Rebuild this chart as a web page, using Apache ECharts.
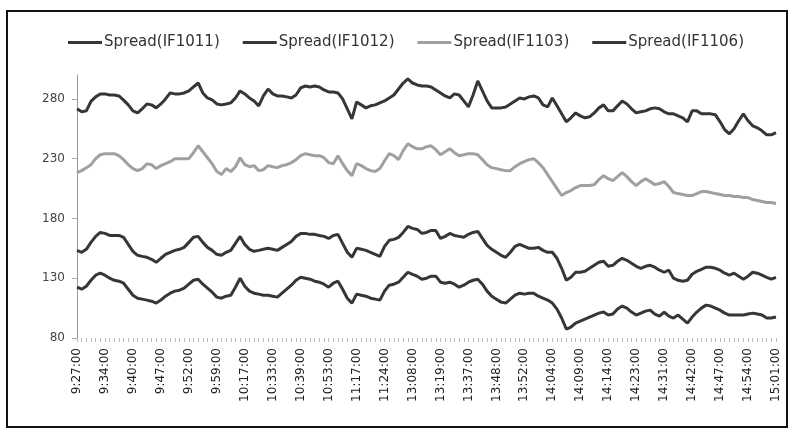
<!DOCTYPE html>
<html>
<head>
<meta charset="utf-8">
<script src="https://cdn.jsdelivr.net/npm/echarts@6/dist/echarts.min.js"></script>
<style>
  body { margin: 0; background: #fff; }
  #main { position: absolute; left: 0; top: 0; width: 790px; height: 432px; }
  #frame {
    position: absolute; left: 6px; top: 10px; width: 778px; height: 414px;
    border: 2px solid #111; pointer-events: none;
  }
</style>
</head>
<body>
<div id="main"></div>
<div id="frame"></div>
<script>
// tick labels shown every 6th point
const timeLabels = [
  '9:27:00', '9:34:00', '9:40:00', '9:47:00', '9:52:00', '9:59:00',
  '10:17:00', '10:33:00', '10:39:00', '10:53:00', '11:17:00', '11:24:00',
  '13:08:00', '13:19:00', '13:37:00', '13:48:00', '13:52:00', '14:04:00',
  '14:09:00', '14:14:00', '14:23:00', '14:31:00', '14:42:00', '14:47:00',
  '14:54:00', '15:01:00'
]
const yTicks = [80, 130, 180, 230, 280]
const seriesNames = ['Spread(IF1011)', 'Spread(IF1012)', 'Spread(IF1103)', 'Spread(IF1106)']

const if1011 = [
  122.5, 120.8, 123.3, 128.3, 132.5, 134.2, 132.5, 130, 128.3, 127.5,
  125.8, 120.8, 115.8, 113.3, 112.5, 111.7, 110.8, 109.2, 111.7, 115,
  117.5, 119.2, 120, 121.7, 125, 128.3, 129.2, 125, 121.7, 118.3,
  114.2, 113.3, 115, 115.8, 122.5, 130, 123.3, 119.2, 117.5, 116.7,
  115.8, 115.8, 115, 114.2, 117.5, 120.8, 124.2, 128.3, 130.8, 130,
  129.2, 127.5, 126.7, 125, 122.5, 125.8, 127.5, 120.8, 113.3, 109.2,
  116.7, 115.8, 115, 113.3, 112.5, 111.7, 119.2, 124.2, 125, 126.7,
  130.8, 135, 133.3, 131.7, 129.2, 130, 131.7, 131.7, 126.7, 125.8,
  126.7, 125, 122.5, 124.2, 126.7, 128.3, 129.2, 125, 119.2, 115,
  112.5, 110, 109.2, 112.5, 115.8, 117.5, 116.7, 117.5, 117.5, 115,
  113.3, 111.7, 109.2, 104.2, 96.7, 87.5, 89.2, 92.5, 94.2, 95.8,
  97.5, 99.2, 100.8, 101.7, 99.2, 100, 104.2, 106.7, 105, 101.7,
  99.2, 100.8, 102.5, 103.3, 100, 98.3, 101.7, 98.3, 96.7, 99.2,
  95.8, 92.5, 97.5, 101.7, 105, 107.5, 106.7, 105, 103.3, 100.8,
  99.2, 99.2, 99.2, 99.2, 100, 100.8, 100, 99.2, 96.7, 96.7,
  97.5
]
const if1012 = [
  153.3, 151.7, 154.2, 160, 165, 168.3, 167.5, 165.8, 165.8, 165.8,
  164.2, 158.3, 152.5, 149.2, 148.3, 147.5, 145.8, 143.3, 146.7, 150,
  151.7, 153.3, 154.2, 155.8, 160, 164.2, 165, 160, 155.8, 153.3,
  150, 149.2, 151.7, 153.3, 159.2, 165, 158.3, 154.2, 152.5, 153.3,
  154.2, 155, 154.2, 153.3, 155.8, 158.3, 160.8, 165, 167.5, 167.5,
  166.7, 166.7, 165.8, 165, 163.3, 165.8, 166.7, 159.2, 151.7, 147.5,
  155, 154.2, 153.3, 151.7, 150, 148.3, 156.7, 161.7, 162.5, 164.2,
  168.3, 173.3, 171.7, 170.8, 167.5, 168.3, 170, 170, 163.3, 165,
  167.5, 165.8, 165, 164.2, 166.7, 168.3, 169.2, 163.3, 157.5, 154.2,
  151.7, 149.2, 147.5, 151.7, 156.7, 158.3, 156.7, 155, 155, 155.8,
  153.3, 151.7, 151.7, 146.7, 138.3, 128.3, 130.8, 135, 135, 135.8,
  138.3, 140.8, 143.3, 144.2, 140, 140.8, 144.2, 146.7, 145, 142.5,
  140, 138.3, 140, 140.8, 139.2, 136.7, 135, 136.7, 130, 128.3,
  127.5, 128.3, 133.3, 135.8, 137.5, 139.2, 139.2, 138.3, 136.7, 134.2,
  132.5, 134.2, 131.7, 129.2, 131.7, 135, 134.2, 132.5, 130.8, 129.2,
  130.8
]
const if1103 = [
  218.3, 220, 222.5, 225, 230, 233.3, 234.2, 234.2, 234.2, 232.5,
  229.2, 225, 221.7, 220, 221.7, 225.8, 225, 221.7, 224.2, 225.8,
  227.5, 230, 230, 230, 230, 235, 240.8, 235.8, 230.8, 225.8,
  219.2, 216.7, 221.7, 219.2, 223.3, 230.8, 225, 223.3, 224.2, 220,
  220.8, 224.2, 223.3, 222.5, 224.2, 225, 226.7, 229.2, 232.5, 234.2,
  233.3, 232.5, 232.5, 230.8, 226.7, 225.8, 232.5, 225.8, 220, 215.8,
  225.8, 224.2, 221.7, 220, 219.2, 221.7, 228.3, 234.2, 232.5, 229.2,
  236.7, 242.5, 240, 238.3, 238.3, 240, 240.8, 237.5, 233.3, 235.8,
  238.3, 235, 232.5, 233.3, 234.2, 234.2, 233.3, 229.2, 225, 222.5,
  221.7, 220.8, 220, 220, 223.3, 225.8, 227.5, 229.2, 230, 226.7,
  222.5, 216.7, 210.8, 205, 199.2, 201.7, 203.3, 205.8, 207.5, 207.5,
  207.5, 208.3, 212.5, 215.8, 213.3, 211.7, 215, 218.3, 215, 210.8,
  207.5, 210.8, 213.3, 210.8, 208.3, 209.2, 210.8, 206.7, 201.7, 200.8,
  200, 199.2, 199.2, 200.8, 202.5, 202.5, 201.7, 200.8, 200, 199.2,
  199.2, 198.3, 198.3, 197.5, 197.5, 195.8, 195, 194.2, 193.3, 193.3,
  192.5
]
const if1106 = [
  271.7, 269.2, 270, 278, 281.7, 284.2, 284.2, 283.3, 283.3, 282.5,
  279, 275, 270, 268.3, 271.7, 275.8, 275, 272.5, 275.8, 280,
  285, 284.2, 284.2, 285, 286.7, 290, 293.3, 285, 280.8, 279.2,
  275.8, 275, 275.8, 276.7, 280.8, 286.7, 284.2, 280.8, 278.3, 274.2,
  282.5, 288.3, 284.2, 282.5, 282.5, 281.7, 280.8, 283.3, 289.2, 290.8,
  290, 290.8, 290, 287.5, 285.8, 285.8, 285, 280, 271.7, 263.3,
  277.5, 275, 272.5, 274.2, 275, 276.7, 278.3, 280.8, 283.3, 288.3,
  293.3, 296.7, 293.3, 291.7, 290.8, 290.8, 290, 287.5, 285, 282.5,
  280.8, 284.2, 283.3, 278.3, 273.3, 283.3, 295, 286.7, 278.3, 272.5,
  272.5, 272.5, 273.3, 275.8, 278.3, 280.8, 280, 281.7, 282.5, 280.8,
  275, 273.3, 280.8, 274.2, 267.5, 260.8, 264.2, 268.3, 265.8, 264.2,
  265, 268.3, 272.5, 275, 270, 270, 274.2, 278.3, 275.8, 271.7,
  268.3, 269.2, 270, 271.7, 272.5, 271.7, 269.2, 267.5, 267.5, 265.8,
  264.2, 260.8, 270, 270, 267.5, 267.5, 267.5, 266.7, 260.8, 254.2,
  250.8, 255, 261.7, 267.5, 261.7, 257.5, 255.8, 253.3, 250, 250,
  251.7
]

// one category per data point, only every 6th carries a time
const categories = if1011.map((_, i) => (i % 6 === 0 ? timeLabels[i / 6] : ''))

const lineColors = ['#363636', '#363636', '#a0a0a0', '#363636']
const allData = [if1011, if1012, if1103, if1106]

const chart = echarts.init(document.getElementById('main'))

const option = {
  animation: false,
  textStyle: { fontFamily: 'DejaVu Sans' },
  legend: {
    top: 30,
    left: 63,
    itemWidth: 34,
    itemHeight: 3,
    itemGap: 23,
    icon: 'rect',
    textStyle: { fontSize: 15, color: '#333', padding: [0, 0, 0, -3] },
    data: seriesNames
  },
  grid: { left: 77, right: 14, top: 75, bottom: 94 },
  xAxis: {
    type: 'category',
    boundaryGap: false,
    data: categories,
    axisLine: { show: false },
    axisTick: { show: true, interval: 0, length: 4, lineStyle: { color: '#bbb' } },
    axisLabel: {
      interval: 5,
      rotate: 90,
      fontSize: 12,
      color: '#222',
      margin: 10
    }
  },
  yAxis: {
    type: 'value',
    min: 80,
    max: 300,
    splitLine: { show: false },
    axisLine: { show: true, lineStyle: { color: '#999' } },
    axisTick: { show: true, length: 5, customValues: yTicks, lineStyle: { color: '#aaa' } },
    axisLabel: { customValues: yTicks, fontSize: 12, color: '#444', margin: 12 }
  },
  series: seriesNames.map((name, k) => ({
    name,
    type: 'line',
    data: allData[k],
    symbol: 'none',
    lineStyle: { width: 3, color: lineColors[k] },
    itemStyle: { color: lineColors[k] }
  }))
}

chart.setOption(option)
</script>
</body>
</html>
